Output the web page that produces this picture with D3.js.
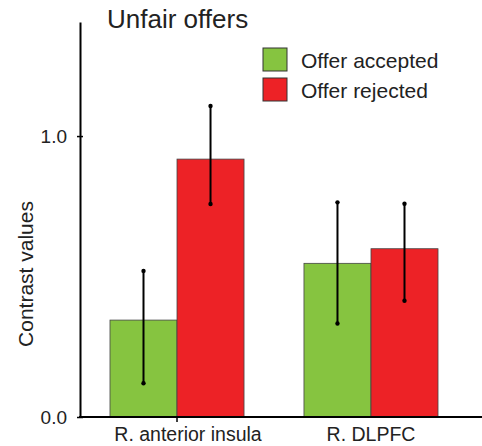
<!DOCTYPE html>
<html><head><meta charset="utf-8">
<script src="https://cdn.jsdelivr.net/npm/d3@7"></script>
<style>body{margin:0;background:#fff}svg{display:block}text{font-family:"Liberation Sans",Arial,sans-serif;fill:#222}</style>
</head><body><svg id="c" width="482" height="446"></svg>
<script>
const categories = ["R. anterior insula", "R. DLPFC"];
const seriesNames = ["Offer accepted", "Offer rejected"];
const accepted = [0.345, 0.547];
const rejected = [0.918, 0.599];
const acceptedLow = [0.12, 0.333];
const acceptedHigh = [0.52, 0.764];
const rejectedLow = [0.758, 0.414];
const rejectedHigh = [1.107, 0.759];
const yTicks = [0.0, 1.0];
const colors = ["#86c440", "#ed2226"];

const svg = d3.select("#c");
const y = d3.scaleLinear().domain([0, 1.406]).range([417, 22]);
const x0 = d3.scaleBand().domain(categories).range([80, 468]).paddingInner(0.309).paddingOuter(0.1546);
const x1 = d3.scaleBand().domain(seriesNames).range([0, x0.bandwidth()]);

const data = categories.map((c, i) => ({c, vals: [
  {s: seriesNames[0], v: accepted[i], lo: acceptedLow[i], hi: acceptedHigh[i]},
  {s: seriesNames[1], v: rejected[i], lo: rejectedLow[i], hi: rejectedHigh[i]}
]}));

const g = svg.append("g").selectAll("g").data(data).join("g")
  .attr("transform", d => `translate(${x0(d.c)},0)`);
g.selectAll("rect").data(d => d.vals).join("rect")
  .attr("x", d => x1(d.s)).attr("width", x1.bandwidth())
  .attr("y", d => y(d.v)).attr("height", d => y(0) - y(d.v))
  .attr("fill", (d, i) => colors[i]).attr("stroke", "#444").attr("stroke-width", 0.8);
g.selectAll("line.err").data(d => d.vals).join("line").attr("class", "err")
  .attr("x1", d => x1(d.s) + x1.bandwidth() / 2).attr("x2", d => x1(d.s) + x1.bandwidth() / 2)
  .attr("y1", d => y(d.lo)).attr("y2", d => y(d.hi)).attr("stroke", "#000").attr("stroke-width", 2);
g.selectAll("circle.lo").data(d => d.vals).join("circle")
  .attr("cx", d => x1(d.s) + x1.bandwidth() / 2).attr("cy", d => y(d.lo)).attr("r", 2.2).attr("fill", "#000");
g.selectAll("circle.hi").data(d => d.vals).join("circle")
  .attr("cx", d => x1(d.s) + x1.bandwidth() / 2).attr("cy", d => y(d.hi)).attr("r", 2.2).attr("fill", "#000");

// y axis
const yAxis = svg.append("g").attr("transform", "translate(80,0)")
  .call(d3.axisLeft(y).tickValues(yTicks).tickFormat(d3.format(".1f")).tickSizeInner(3).tickSizeOuter(0).tickPadding(10));
yAxis.select(".domain").attr("stroke", "#000").attr("stroke-width", 2);
yAxis.selectAll(".tick line").attr("stroke", "#000").attr("stroke-width", 1.5).attr("x2", 3).attr("x1", -3);
yAxis.selectAll(".tick text").style("font-size", "19px").attr("fill", "#222");

// x axis
svg.append("line").attr("x1", 79).attr("x2", 482).attr("y1", y(0)).attr("y2", y(0)).attr("stroke", "#000").attr("stroke-width", 2);
svg.append("line").attr("x1", x0(categories[0]) + x0.bandwidth() / 2).attr("x2", x0(categories[0]) + x0.bandwidth() / 2)
  .attr("y1", y(0)).attr("y2", y(0) + 5).attr("stroke", "#000").attr("stroke-width", 1.5);
const labelDx = [11, 0];
svg.selectAll("text.xl").data(categories).join("text").attr("class", "xl")
  .attr("x", (d, i) => x0(d) + x0.bandwidth() / 2 + labelDx[i]).attr("y", 441).attr("text-anchor", "middle")
  .style("font-size", "19.5px").text(d => d);

// y label
svg.append("text").attr("transform", "translate(33,274) rotate(-90)").attr("text-anchor", "middle")
  .style("font-size", "21px").text("Contrast values");

// title
svg.append("text").attr("x", 107).attr("y", 28).style("font-size", "26px").text("Unfair offers");

// legend
const lg = svg.append("g").selectAll("g").data(seriesNames).join("g")
  .attr("transform", (d, i) => `translate(263,${48 + i * 30})`);
lg.append("rect").attr("width", 24).attr("height", 23).attr("fill", (d, i) => colors[i]).attr("stroke", "#333").attr("stroke-width", 1);
lg.append("text").attr("x", 38).attr("y", 20).style("font-size", "21px").text(d => d);
</script></body></html>
